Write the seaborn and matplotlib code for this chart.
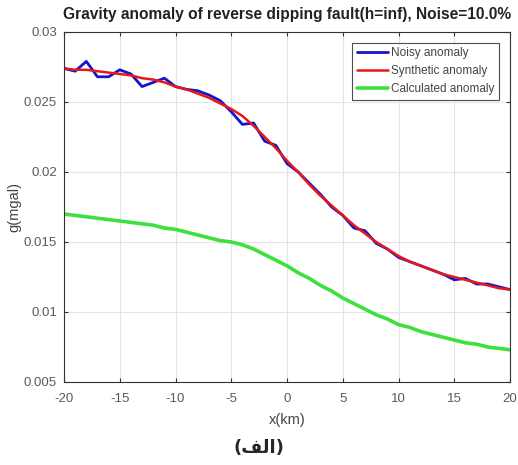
import matplotlib
matplotlib.use('Agg')
import matplotlib.pyplot as plt
import seaborn as sns
import pandas as pd

# x positions (km)
x_km = list(range(-20, 21))

# noisy anomaly (mgal)
noisy = [0.0274, 0.0272, 0.0279, 0.0268, 0.0268, 0.0273, 0.0270, 0.0261, 0.0264, 0.0267,
         0.0261, 0.0259, 0.0258, 0.0255, 0.0251, 0.0243, 0.0234, 0.0235, 0.0222, 0.0219,
         0.0206, 0.0200, 0.0192, 0.0184, 0.0175, 0.0169, 0.0160, 0.0158, 0.0149, 0.0145,
         0.0139, 0.0136, 0.0133, 0.0130, 0.0127, 0.0123, 0.0124, 0.0120, 0.0120, 0.0118,
         0.0116]

# synthetic anomaly (mgal)
synthetic = [0.0274, 0.0273, 0.0273, 0.0272, 0.0271, 0.0270, 0.0269, 0.0267, 0.0266, 0.0264,
             0.0261, 0.0259, 0.0256, 0.0253, 0.0249, 0.0245, 0.0240, 0.0233, 0.0225, 0.0217,
             0.0208, 0.0200, 0.0191, 0.0183, 0.0176, 0.0169, 0.0162, 0.0156, 0.0150, 0.0145,
             0.0140, 0.0136, 0.0133, 0.0130, 0.0127, 0.0125, 0.0123, 0.0121, 0.0119, 0.0117,
             0.0116]

# calculated anomaly (mgal)
calculated = [0.0170, 0.0169, 0.0168, 0.0167, 0.0166, 0.0165, 0.0164, 0.0163, 0.0162, 0.0160,
              0.0159, 0.0157, 0.0155, 0.0153, 0.0151, 0.0150, 0.0148, 0.0145, 0.0141, 0.0137,
              0.0133, 0.0128, 0.0124, 0.0119, 0.0115, 0.0110, 0.0106, 0.0102, 0.0098, 0.0095,
              0.0091, 0.0089, 0.0086, 0.0084, 0.0082, 0.0080, 0.0078, 0.0077, 0.0075, 0.0074,
              0.0073]

y_ticks = [0.005, 0.01, 0.015, 0.02, 0.025, 0.03]
y_labels = ['0.005', '0.01', '0.015', '0.02', '0.025', '0.03']
x_ticks = [-20, -15, -10, -5, 0, 5, 10, 15, 20]

sns.set_style('white')
plt.rcParams['font.family'] = ['Liberation Sans', 'DejaVu Sans']
plt.rcParams['axes.unicode_minus'] = False

fig = plt.figure(figsize=(5.18, 4.65), dpi=100)
ax = fig.add_axes([0.1236, 0.1785, 0.861, 0.7527])

sns.lineplot(x=x_km, y=noisy, ax=ax, color='#1414c8', lw=2, label='Noisy anomaly')
sns.lineplot(x=x_km, y=synthetic, ax=ax, color='#e81818', lw=1.8, label='Synthetic anomaly')
sns.lineplot(x=x_km, y=calculated, ax=ax, color='#3ee03e', lw=2.6, label='Calculated anomaly')

ax.set_xlim(-20, 20)
ax.set_ylim(0.005, 0.03)
ax.set_xticks(x_ticks)
ax.set_yticks(y_ticks)
ax.set_yticklabels(y_labels)
ax.grid(True, color='#e4e4e4', lw=0.8)
ax.tick_params(axis='both', which='both', direction='in', length=3, labelsize=9.5,
               labelcolor='#5a5a5a', color='#333333', top=True, right=True,
               bottom=True, left=True)
ax.tick_params(axis='x', pad=8)
ax.tick_params(axis='y', pad=5)
for s in ax.spines.values():
    s.set_color('#333333')
    s.set_linewidth(0.8)

ax.set_xlabel('x(km)', fontsize=10.5, color='#444444', labelpad=6)
ax.set_ylabel('g(mgal)', fontsize=10.5, color='#444444', labelpad=2)
ax.set_title('Gravity anomaly of reverse dipping fault(h=inf), Noise=10.0%',
             fontsize=11.2, fontweight='bold', color='#222222', pad=9)

leg = ax.legend(loc='upper right', fontsize=8.5, frameon=True, fancybox=False,
                handlelength=2.6, handletextpad=0.3, borderpad=0.4,
                borderaxespad=0.9, labelspacing=0.5)
leg.get_frame().set_edgecolor('#222222')
leg.get_frame().set_linewidth(0.8)
for t in leg.get_texts():
    t.set_color('#444444')

# caption, Arabic letters in visual order with contextual forms
fig.text(0.5, 0.036, '(\uFED2\uFEDF\uFE8D)', ha='center', va='center',
         fontsize=13, fontweight='bold', family=['DejaVu Sans'])

fig.savefig('out.png', dpi=100)
